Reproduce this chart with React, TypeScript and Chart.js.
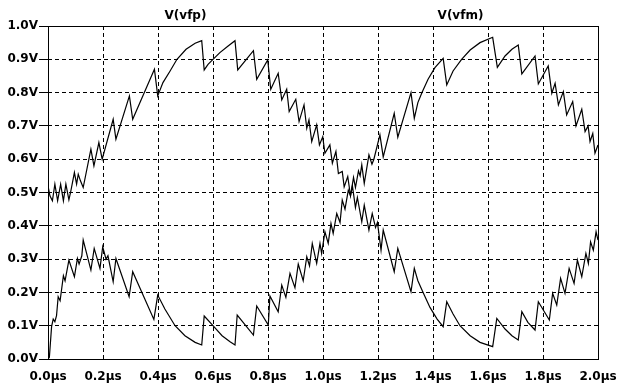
import React, { useEffect, useRef } from 'react';
import { Chart, registerables } from 'chart.js';

Chart.register(...registerables);

// Trace names
const traceNames = ['V(vfp)', 'V(vfm)'];

// Axis ranges / ticks
const timeMin = 0;
const timeMax = 2.0;
const timeStep = 0.2;
const voltMin = 0;
const voltMax = 1.0;
const voltStep = 0.1;

// V(vfp): time in µs, value in V
const vfpTime = [
  0, 0.007, 0.016, 0.025, 0.035, 0.046, 0.056, 0.065, 0.076, 0.082,
  0.096, 0.104, 0.110, 0.118, 0.128, 0.156, 0.167, 0.185, 0.197, 0.237,
  0.247, 0.296, 0.308, 0.387, 0.399, 0.418, 0.444, 0.469, 0.502, 0.535,
  0.559, 0.568, 0.582, 0.600, 0.625, 0.655, 0.680, 0.690, 0.747, 0.759,
  0.799, 0.810, 0.837, 0.850, 0.868, 0.877, 0.901, 0.913, 0.931, 0.941,
  0.949, 0.959, 0.977, 0.987, 0.999, 1.007, 1.025, 1.034, 1.047, 1.056,
  1.070, 1.077, 1.090, 1.100, 1.107, 1.118, 1.125, 1.141, 1.150, 1.167,
  1.179, 1.191, 1.198, 1.211, 1.219, 1.259, 1.272, 1.320, 1.332, 1.345,
  1.364, 1.389, 1.415, 1.437, 1.450, 1.473, 1.498, 1.535, 1.571, 1.617,
  1.632, 1.662, 1.687, 1.710, 1.723, 1.745, 1.771, 1.783, 1.823, 1.835,
  1.850, 1.864, 1.880, 1.895, 1.913, 1.925, 1.941, 1.956, 1.965, 1.973,
  1.983, 1.993, 2.0,
];
const vfpVolt = [
  0.52, 0.49, 0.475, 0.525, 0.475, 0.525, 0.475, 0.525, 0.478, 0.50,
  0.56, 0.525, 0.555, 0.535, 0.515, 0.63, 0.58, 0.65, 0.60, 0.72,
  0.66, 0.79, 0.72, 0.87, 0.79, 0.83, 0.865, 0.90, 0.93, 0.948,
  0.956, 0.868, 0.885, 0.90, 0.92, 0.94, 0.956, 0.868, 0.926, 0.84,
  0.898, 0.81, 0.858, 0.778, 0.81, 0.743, 0.78, 0.713, 0.763, 0.693,
  0.718, 0.653, 0.703, 0.643, 0.667, 0.618, 0.643, 0.588, 0.623, 0.557,
  0.563, 0.517, 0.548, 0.49, 0.52, 0.455, 0.485, 0.412, 0.462, 0.387,
  0.437, 0.395, 0.41, 0.327, 0.387, 0.262, 0.332, 0.202, 0.272, 0.235,
  0.20, 0.155, 0.12, 0.097, 0.172, 0.135, 0.10, 0.07, 0.05, 0.037,
  0.122, 0.09, 0.07, 0.057, 0.142, 0.11, 0.087, 0.172, 0.117, 0.197,
  0.162, 0.242, 0.197, 0.272, 0.227, 0.297, 0.247, 0.317, 0.287, 0.352,
  0.327, 0.382, 0.357,
];

// V(vfm): time in µs, value in V
const vfmTime = [
  0, 0.005, 0.013, 0.019, 0.025, 0.031, 0.037, 0.044, 0.056, 0.062,
  0.076, 0.096, 0.107, 0.113, 0.123, 0.128, 0.156, 0.168, 0.189, 0.199,
  0.211, 0.218, 0.237, 0.247, 0.295, 0.308, 0.385, 0.399, 0.425, 0.462,
  0.498, 0.535, 0.559, 0.568, 0.600, 0.633, 0.662, 0.680, 0.688, 0.747,
  0.759, 0.801, 0.807, 0.837, 0.850, 0.865, 0.880, 0.898, 0.910, 0.928,
  0.941, 0.951, 0.961, 0.977, 0.989, 0.995, 1.007, 1.019, 1.029, 1.037,
  1.050, 1.062, 1.070, 1.080, 1.092, 1.100, 1.111, 1.118, 1.129, 1.135,
  1.141, 1.150, 1.167, 1.178, 1.185, 1.207, 1.219, 1.259, 1.272, 1.320,
  1.332, 1.345, 1.360, 1.382, 1.407, 1.437, 1.450, 1.473, 1.504, 1.535,
  1.571, 1.617, 1.634, 1.662, 1.687, 1.710, 1.723, 1.771, 1.783, 1.819,
  1.832, 1.844, 1.856, 1.874, 1.886, 1.908, 1.920, 1.941, 1.953, 1.964,
  1.971, 1.981, 1.989, 2.0,
];
const vfmVolt = [
  0.0, 0.005, 0.097, 0.12, 0.112, 0.13, 0.187, 0.175, 0.25, 0.235,
  0.297, 0.247, 0.302, 0.285, 0.31, 0.357, 0.267, 0.332, 0.272, 0.337,
  0.30, 0.31, 0.232, 0.302, 0.187, 0.262, 0.119, 0.192, 0.15, 0.10,
  0.07, 0.05, 0.042, 0.129, 0.10, 0.07, 0.052, 0.042, 0.132, 0.072,
  0.159, 0.102, 0.189, 0.142, 0.222, 0.185, 0.257, 0.214, 0.285, 0.235,
  0.307, 0.28, 0.347, 0.287, 0.347, 0.317, 0.382, 0.347, 0.407, 0.377,
  0.437, 0.41, 0.477, 0.45, 0.507, 0.49, 0.545, 0.515, 0.565, 0.55,
  0.583, 0.527, 0.613, 0.585, 0.60, 0.673, 0.607, 0.738, 0.666, 0.80,
  0.723, 0.77, 0.80, 0.84, 0.875, 0.903, 0.823, 0.865, 0.90, 0.928,
  0.95, 0.966, 0.876, 0.91, 0.93, 0.943, 0.856, 0.91, 0.826, 0.88,
  0.798, 0.828, 0.763, 0.803, 0.733, 0.773, 0.70, 0.75, 0.683, 0.70,
  0.653, 0.677, 0.618, 0.643,
];

const FONT_FAMILY = '"DejaVu Sans", "Liberation Sans", sans-serif';

const framePlugin = {
  id: 'ltspiceFrame',
  afterDraw(chart: any) {
    const { ctx, chartArea } = chart;
    const { left, top, right, bottom } = chartArea;
    ctx.save();
    ctx.strokeStyle = '#000';
    ctx.lineWidth = 1;
    ctx.setLineDash([]);
    ctx.strokeRect(Math.round(left) + 0.5, Math.round(top) + 0.5, Math.round(right - left), Math.round(bottom - top));
    ctx.fillStyle = '#000';
    ctx.font = `bold 12px ${FONT_FAMILY}`;
    ctx.textAlign = 'center';
    ctx.textBaseline = 'alphabetic';
    const w = right - left;
    traceNames.forEach((name, i) => {
      const cx = left + w * (0.25 + 0.5 * i);
      ctx.fillText(name, cx, top - 7);
    });
    ctx.restore();
  },
};

export default function App() {
  const canvasRef = useRef<HTMLCanvasElement>(null);

  useEffect(() => {
    const canvas = canvasRef.current;
    if (!canvas) return;
    const tickFont = { family: FONT_FAMILY, size: 12, weight: 'bold' as const };
    const chart = new Chart(canvas, {
      type: 'line',
      data: {
        datasets: [
          {
            label: traceNames[0],
            data: vfpTime.map((t, i) => ({ x: t, y: vfpVolt[i] })),
            borderColor: '#000',
            borderWidth: 1.2,
            pointRadius: 0,
            tension: 0,
            fill: false,
          },
          {
            label: traceNames[1],
            data: vfmTime.map((t, i) => ({ x: t, y: vfmVolt[i] })),
            borderColor: '#000',
            borderWidth: 1.2,
            pointRadius: 0,
            tension: 0,
            fill: false,
          },
        ],
      },
      options: {
        responsive: false,
        animation: false,
        devicePixelRatio: 1,
        layout: { padding: { left: 0, top: 26, right: 20, bottom: 0 } },
        plugins: {
          legend: { display: false },
          tooltip: { enabled: false },
          title: { display: false },
        },
        scales: {
          x: {
            type: 'linear',
            min: timeMin,
            max: timeMax,
            ticks: {
              stepSize: timeStep,
              autoSkip: false,
              maxRotation: 0,
              color: '#000',
              padding: 3,
              font: tickFont,
              callback: (v: any) => Number(v).toFixed(1) + 'µs',
            },
            grid: {
              color: '#000',
              lineWidth: 1,
              drawTicks: true,
              tickLength: 8,
              tickColor: 'rgba(0,0,0,0)',
            },
            border: { display: false, dash: [4, 3] },
            afterFit: (s: any) => {
              s.height = 27;
              s.paddingLeft = 0;
              s.paddingRight = 0;
            },
          },
          y: {
            type: 'linear',
            min: voltMin,
            max: voltMax,
            ticks: {
              stepSize: voltStep,
              color: '#000',
              padding: 1,
              font: tickFont,
              callback: (v: any) => Number(v).toFixed(1) + 'V',
            },
            grid: {
              color: '#000',
              lineWidth: 1,
              drawTicks: true,
              tickLength: 9,
              tickColor: '#000',
              tickBorderDash: [],
            } as any,
            border: { display: false, dash: [4, 3] },
            afterFit: (s: any) => {
              s.width = 48;
              s.paddingTop = 0;
              s.paddingBottom = 0;
            },
          },
        },
      } as any,
      plugins: [framePlugin],
    });
    return () => chart.destroy();
  }, []);

  return (
    <div style={{ position: 'fixed', left: 0, top: 0, width: 618, height: 386, background: '#fff' }}>
      <canvas ref={canvasRef} width={618} height={386} style={{ display: 'block', width: 618, height: 386 }} />
    </div>
  );
}
